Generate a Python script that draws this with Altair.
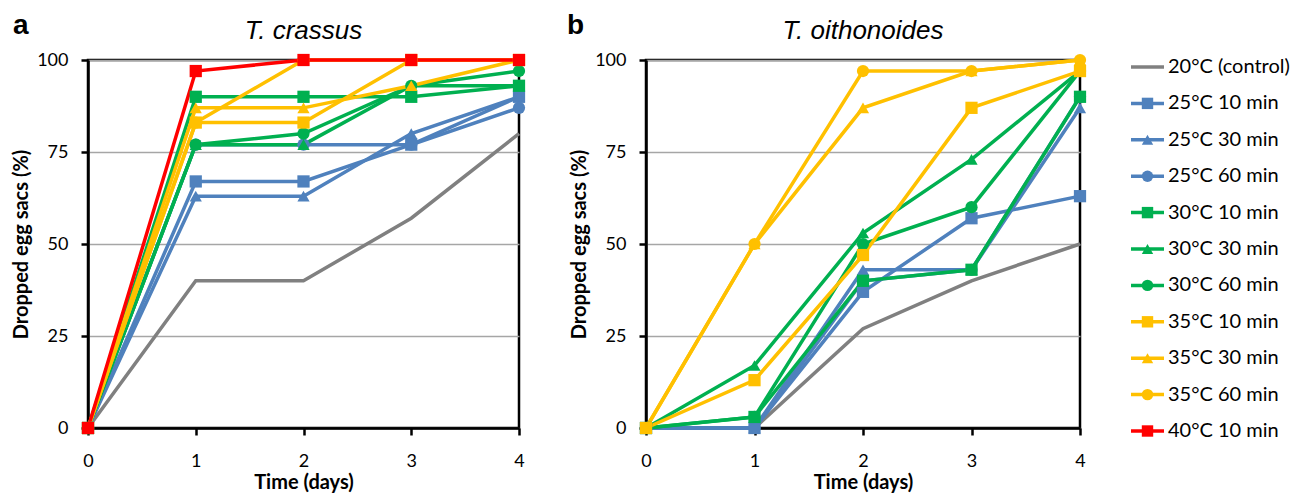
import altair as alt
import pandas as pd

days = [0, 1, 2, 3, 4]
y_ticks = [0, 25, 50, 75, 100]

series_names = ["20°C (control)", "25°C 10 min", "25°C 30 min", "25°C 60 min",
                "30°C 10 min", "30°C 30 min", "30°C 60 min",
                "35°C 10 min", "35°C 30 min", "35°C 60 min", "40°C 10 min"]
series_colors = ["#808080", "#4F81BD", "#4F81BD", "#4F81BD",
                 "#00B050", "#00B050", "#00B050",
                 "#FFC000", "#FFC000", "#FFC000", "#FF0000"]
series_shapes = ["circle", "square", "triangle-up", "circle",
                 "square", "triangle-up", "circle",
                 "square", "triangle-up", "circle", "square"]

# panel a: T. crassus
tc_20_control = [0, 40, 40, 57, 80]
tc_25_10 = [0, 67, 67, 77, 90]
tc_25_30 = [0, 63, 63, 80, 90]
tc_25_60 = [0, 77, 77, 77, 87]
tc_30_10 = [0, 90, 90, 90, 93]
tc_30_30 = [0, 77, 77, 93, 93]
tc_30_60 = [0, 77, 80, 93, 97]
tc_35_10 = [0, 83, 83, 100, 100]
tc_35_30 = [0, 87, 87, 93, 100]
tc_35_60 = [0, 83, 100, 100, 100]
tc_40_10 = [0, 97, 100, 100, 100]

# panel b: T. oithonoides (no 40 °C treatment)
to_20_control = [0, 0, 27, 40, 50]
to_25_10 = [0, 0, 37, 57, 63]
to_25_30 = [0, 0, 43, 43, 87]
to_25_60 = [0, 0, 40, 43, 90]
to_30_10 = [0, 3, 40, 43, 90]
to_30_30 = [0, 17, 53, 73, 97]
to_30_60 = [0, 3, 50, 60, 97]
to_35_10 = [0, 13, 47, 87, 97]
to_35_30 = [0, 50, 87, 97, 100]
to_35_60 = [0, 50, 97, 97, 100]

crassus = [tc_20_control, tc_25_10, tc_25_30, tc_25_60, tc_30_10, tc_30_30,
           tc_30_60, tc_35_10, tc_35_30, tc_35_60, tc_40_10]
oithonoides = [to_20_control, to_25_10, to_25_30, to_25_60, to_30_10, to_30_30,
               to_30_60, to_35_10, to_35_30, to_35_60]

panel_titles = ["T. crassus", "T. oithonoides"]
panel_letters = ["a", "b"]

color_scale = alt.Scale(domain=series_names, range=series_colors)
shape_scale = alt.Scale(domain=series_names, range=series_shapes)


def long_df(lists):
    rows = []
    for i, vals in enumerate(lists):
        for d, v in zip(days, vals):
            rows.append({"series": series_names[i], "order": i, "day": d, "value": v})
    return pd.DataFrame(rows)


def panel(lists, title, letter, width, letter_x):
    df = long_df(lists)
    base = alt.Chart(df)
    x = alt.X("day:Q", scale=alt.Scale(domain=[0, 4], nice=False),
              axis=alt.Axis(values=days, title="Time (days)", grid=False, format="d"))
    y = alt.Y("value:Q", scale=alt.Scale(domain=[0, 100], nice=False),
              axis=alt.Axis(values=y_ticks, title="Dropped egg sacs (%)", grid=True))
    color = alt.Color("series:N", scale=color_scale, legend=None)
    lines = base.mark_line(strokeWidth=3.5).encode(
        x=x, y=y, color=color, detail="series:N", order="day:Q")
    points = base.transform_filter(alt.datum.order > 0).mark_point(
        filled=True, size=150, opacity=1).encode(
        x=x, y=y, color=color,
        shape=alt.Shape("series:N", scale=shape_scale, legend=None))
    lab_df = pd.DataFrame({"t": [letter]})
    lab = alt.Chart(lab_df).mark_text(
        font="Liberation Sans", fontSize=28, fontWeight="bold", align="left",
        baseline="alphabetic", color="black").encode(
        text="t:N", x=alt.value(letter_x), y=alt.value(-26))
    ttl_df = pd.DataFrame({"t": [title]})
    ttl = alt.Chart(ttl_df).mark_text(
        font="Liberation Sans", fontSize=26, fontStyle="italic", align="center",
        baseline="alphabetic", color="black").encode(
        text="t:N", x=alt.value(width / 2), y=alt.value(-21))
    return alt.layer(lines, points, lab, ttl).properties(
        width=width, height=368,
        view=alt.ViewBackground(stroke="black", strokeWidth=2.5))


left = panel(crassus, panel_titles[0], panel_letters[0], 431, -75)
right = panel(oithonoides, panel_titles[1], panel_letters[1], 434, -79)

leg_df = pd.DataFrame({"series": series_names, "order": list(range(len(series_names)))})
leg_y = alt.Y("series:N", scale=alt.Scale(type="point", domain=series_names,
                                          range=[7, 371], padding=0), axis=None)
leg_color = alt.Color("series:N", scale=color_scale, legend=None)
leg_base = alt.Chart(leg_df)
leg_rules = leg_base.mark_rule(strokeWidth=3.5).encode(
    x=alt.value(-76), x2=alt.value(-43), y=leg_y, color=leg_color)
leg_points = leg_base.transform_filter(alt.datum.order > 0).mark_point(
    filled=True, size=130, opacity=1).encode(
    x=alt.value(-59.5), y=leg_y, color=leg_color,
    shape=alt.Shape("series:N", scale=shape_scale, legend=None))
leg_text = leg_base.mark_text(align="left", baseline="middle", fontSize=20,
                              font="Lato", color="black").encode(
    x=alt.value(-39), y=leg_y, text="series:N")
legend = alt.layer(leg_rules, leg_points, leg_text).properties(
    width=90, height=368,
    view=alt.ViewBackground(stroke="transparent", strokeWidth=0))

chart = alt.hconcat(left, right, legend, spacing=127, bounds="flush").resolve_scale(
    color="shared", shape="shared"
).properties(
    padding={"left": 2, "top": 2, "right": 0, "bottom": 0}
).configure(font="Lato").configure_axis(
    domainColor="black", domainWidth=2.5, tickColor="black", tickWidth=2.5,
    tickSize=7, labelColor="black", labelFont="Lato", labelFontSize=18,
    titleColor="black", titleFont="Lato", titleFontSize=20, titleFontWeight="bold",
    gridColor="#A6A6A6", gridWidth=1.5, labelFlush=False, labelOverlap=False
).configure_axisY(labelPadding=13, titlePadding=5).configure_axisX(
    labelPadding=17, titlePadding=2
).configure_view(stroke="black", strokeWidth=2.5)

chart.save("out.html", embed_options={"renderer": "svg", "actions": False})
